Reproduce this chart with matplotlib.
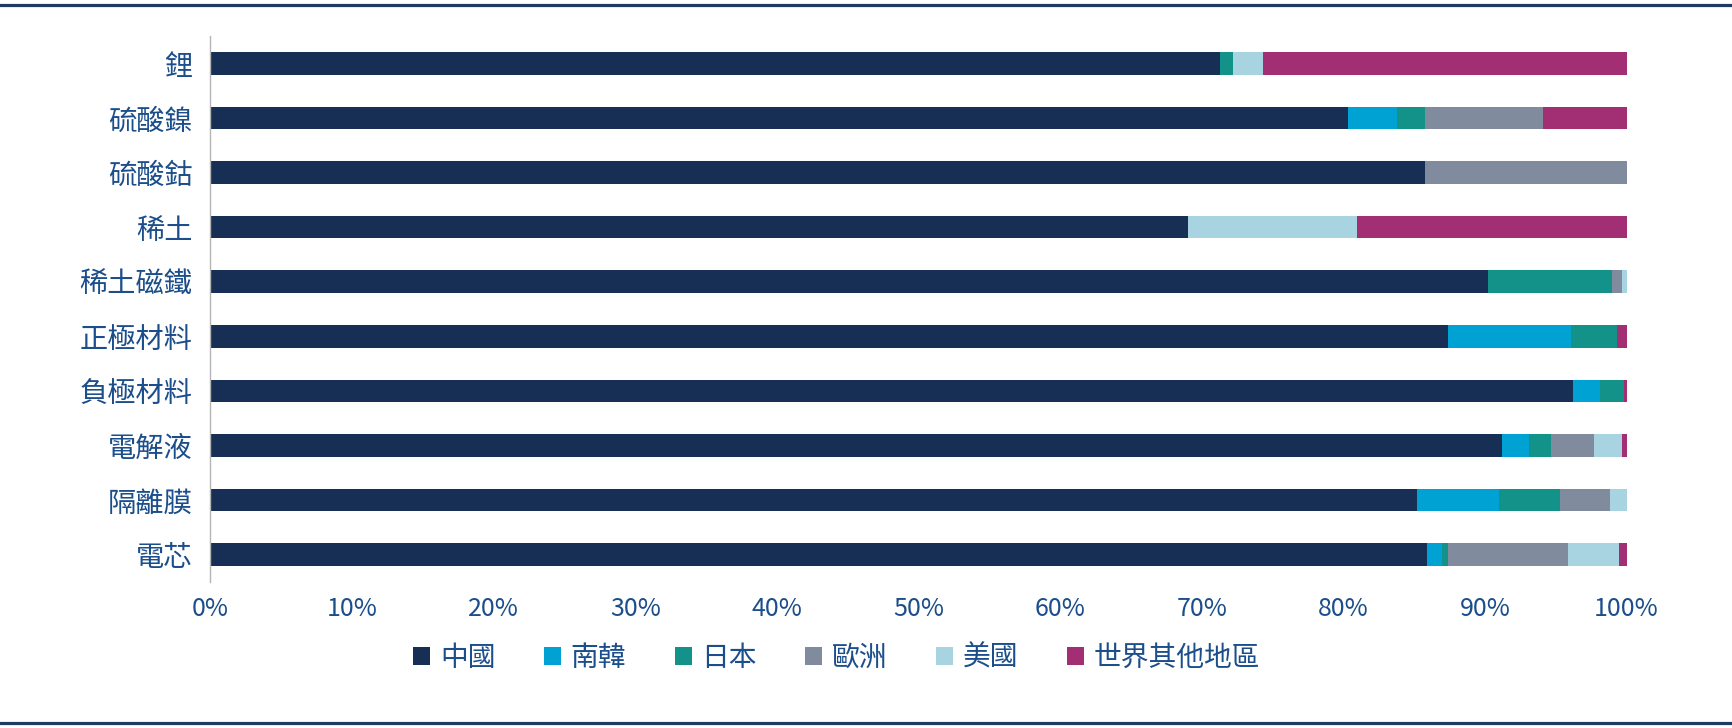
"""Stacked horizontal bars: share of battery supply chain capacity by region."""

import matplotlib
matplotlib.use("Agg")
import matplotlib.pyplot as plt
from matplotlib.lines import Line2D
from matplotlib.patches import Patch
from matplotlib.ticker import FuncFormatter

plt.rcParams["font.family"] = ["Noto Sans CJK TC", "DejaVu Sans"]

TEXT_COLOR = "#1B4E8A"
RULE_COLOR = "#1F3A63"

categories = ["鋰", "硫酸鎳", "硫酸鈷", "稀土", "稀土磁鐵",
              "正極材料", "負極材料", "電解液", "隔離膜", "電芯"]

regions = ["中國", "南韓", "日本", "歐洲", "美國", "世界其他地區"]
region_colors = ["#172F55", "#00A1D3", "#13928A", "#808C9E", "#A7D4E0", "#A22F73"]

# shares in percent, one list per region, same order as categories
china = [71.3, 80.3, 85.8, 69.0, 90.2, 87.4, 96.2, 91.2, 85.2, 85.9]
korea = [0.0, 3.5, 0.0, 0.0, 0.0, 8.7, 1.9, 1.9, 5.8, 1.1]
japan = [0.9, 2.0, 0.0, 0.0, 8.8, 3.2, 1.7, 1.6, 4.3, 0.4]
europe = [0.0, 8.3, 14.2, 0.0, 0.7, 0.0, 0.0, 3.0, 3.5, 8.5]
usa = [2.1, 0.0, 0.0, 12.0, 0.3, 0.0, 0.0, 2.0, 1.2, 3.6]
rest_of_world = [25.7, 5.9, 0.0, 19.0, 0.0, 0.7, 0.2, 0.3, 0.0, 0.5]

series = [china, korea, japan, europe, usa, rest_of_world]

fig = plt.figure(figsize=(17.32, 7.28), dpi=100)
ax = fig.add_axes([0.1215, 0.2005, 0.8176, 0.75])

left = [0.0] * len(categories)
for values, color in zip(series, region_colors):
    ax.barh(categories, values, left=left, height=0.415, color=color, linewidth=0)
    left = [a + b for a, b in zip(left, values)]

ax.set_xlim(0, 100)
ax.set_ylim(len(categories) - 0.5, -0.5)
ax.set_xticks(range(0, 101, 10))
ax.xaxis.set_major_formatter(FuncFormatter(lambda v, _: f"{v:.0f}%"))

for side in ["top", "right", "bottom"]:
    ax.spines[side].set_visible(False)
ax.spines["left"].set_color("#B5B5B5")
ax.spines["left"].set_linewidth(1.0)

ax.tick_params(axis="y", length=0, pad=13, labelsize=20.3, labelcolor=TEXT_COLOR)
ax.tick_params(axis="x", length=0, pad=10, labelsize=18, labelcolor=TEXT_COLOR)

handles = [Patch(facecolor=c, edgecolor="none") for c in region_colors]
fig.legend(handles, regions, loc="center left", bbox_to_anchor=(413 / 1732, 1 - 658 / 728),
           ncol=6, frameon=False, fontsize=20, labelcolor=TEXT_COLOR,
           handlelength=0.61, handleheight=0.61, handletextpad=0.36,
           columnspacing=1.74, borderpad=0, borderaxespad=0)

# rules at top and bottom of the figure
fig.add_artist(Line2D([0, 1], [1 - 4.5 / 728] * 2, color=RULE_COLOR, linewidth=2.3))
fig.add_artist(Line2D([0, 1], [1 - 722.5 / 728] * 2, color=RULE_COLOR, linewidth=2.3))

fig.savefig("out.png", dpi=100, facecolor="white")
